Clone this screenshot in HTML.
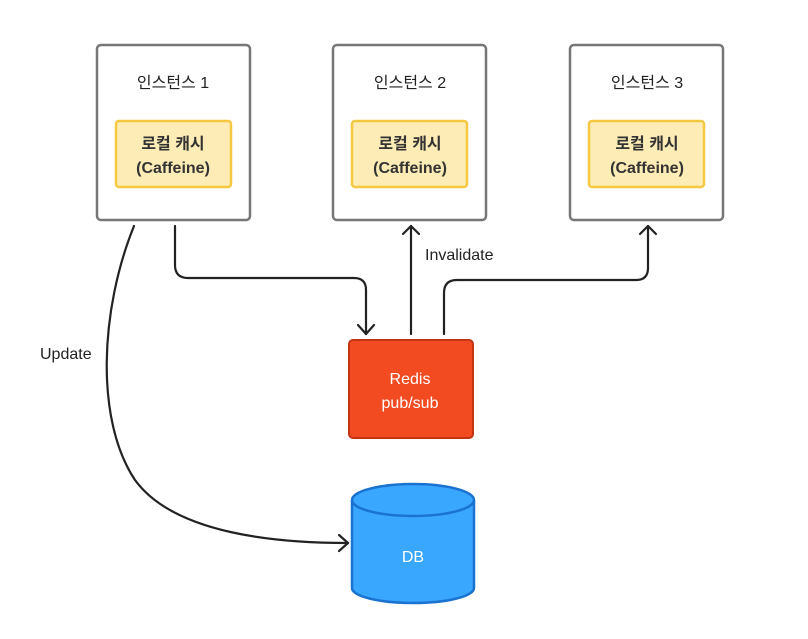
<!DOCTYPE html>
<html><head><meta charset="utf-8"><style>
body{margin:0;background:#fff}
svg text{font-family:"Liberation Sans","Noto Sans CJK KR",sans-serif}
</style></head><body>
<svg width="808" height="634" viewBox="0 0 808 634" xmlns="http://www.w3.org/2000/svg">
<rect width="808" height="634" fill="#fff"/>
<g fill="#fff" stroke="#777" stroke-width="2.5">
<rect x="97" y="45" width="153" height="175" rx="4"/>
<rect x="333" y="45" width="153" height="175" rx="4"/>
<rect x="570" y="45" width="153" height="175" rx="4"/>
</g>
<g fill="#fdecb6" stroke="#f5c842" stroke-width="2.5">
<rect x="116" y="121" width="115" height="66" rx="3"/>
<rect x="352" y="121" width="115" height="66" rx="3"/>
<rect x="589" y="121" width="115" height="66" rx="3"/>
</g>
<g font-size="16" fill="#222" text-anchor="middle">
<text x="173" y="88">인스턴스 1</text>
<text x="410" y="88">인스턴스 2</text>
<text x="647" y="88">인스턴스 3</text>
</g>
<g font-size="16" font-weight="bold" fill="#333" text-anchor="middle">
<text x="173" y="149">로컬 캐시</text><text x="173" y="173">(Caffeine)</text>
<text x="410" y="149">로컬 캐시</text><text x="410" y="173">(Caffeine)</text>
<text x="647" y="149">로컬 캐시</text><text x="647" y="173">(Caffeine)</text>
</g>
<rect x="349" y="340" width="124" height="98" rx="4" fill="#f24b22" stroke="#c23414" stroke-width="2"/>
<text x="410" y="384" font-size="16" fill="#fff" text-anchor="middle">Redis</text>
<text x="410" y="408" font-size="16" fill="#fff" text-anchor="middle">pub/sub</text>
<path d="M352 500 L352 588 A61 15 0 0 0 474 588 L474 500" fill="#3aa7ff" stroke="#1a73d0" stroke-width="2.5"/>
<ellipse cx="413" cy="500" rx="61" ry="16" fill="#3aa7ff" stroke="#1a73d0" stroke-width="2.5"/>
<text x="413" y="562" font-size="16" fill="#fff" text-anchor="middle">DB</text>
<g fill="none" stroke="#222" stroke-width="2.2" stroke-linecap="round" stroke-linejoin="round">
<path d="M175 226 L175 265 Q175 278 188 278 L354 278 Q366 278 366 290 L366 334"/>
<path d="M358 325 L366 334 L374 325"/>
<path d="M411 334 L411 226"/>
<path d="M403 234 L411 226 L419 234"/>
<path d="M444 334 L444 293 Q444 280 457 280 L636 280 Q648 280 648 268 L648 226"/>
<path d="M640 234 L648 226 L656 234"/>
<path d="M134 226 C100 310 95 420 135 480 C175 535 280 543 348 543"/>
<path d="M339 535 L348 543 L339 551"/>
</g>
<text x="425" y="260" font-size="16" fill="#222">Invalidate</text>
<text x="40" y="359" font-size="16" fill="#222">Update</text>
</svg>
</body></html>
